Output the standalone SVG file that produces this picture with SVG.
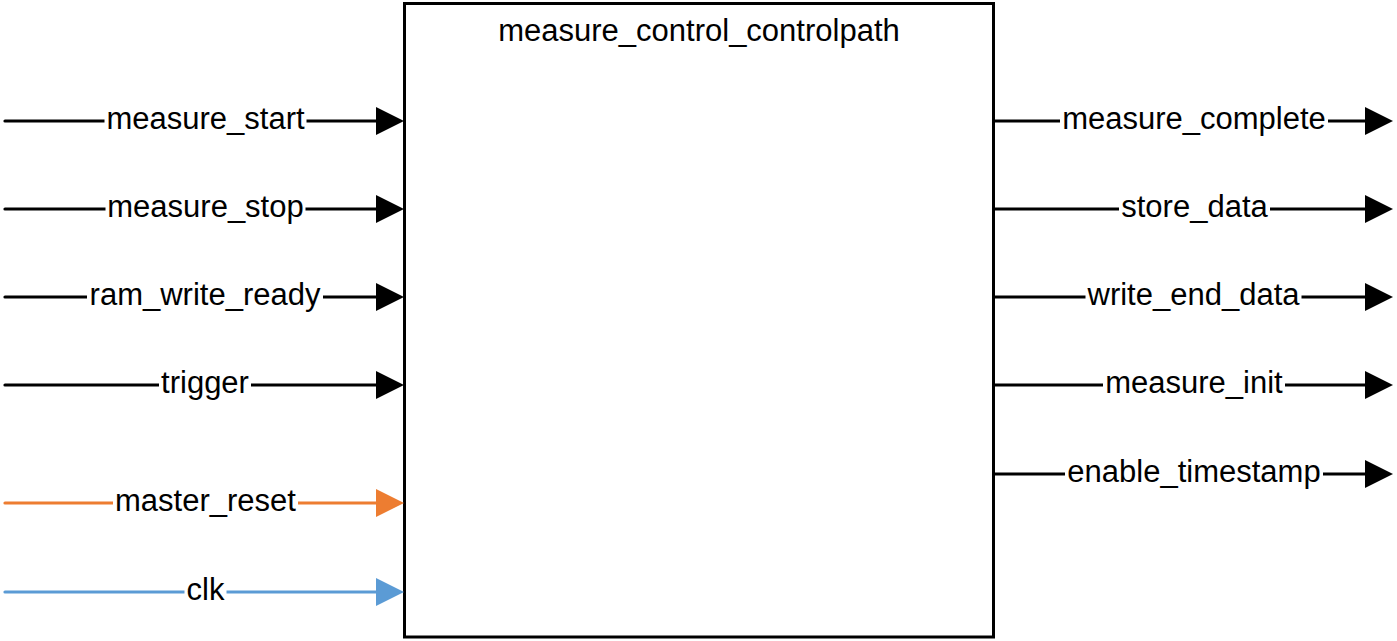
<svg xmlns="http://www.w3.org/2000/svg" width="1397" height="641" viewBox="0 0 1397 641">
  <style>
    .lbl { font-family: "Liberation Sans", Arial, sans-serif; font-size: 31px; fill: #000; text-anchor: middle; }
    .wire { stroke-width: 3.2; stroke-linecap: round; fill: none; }
    .blk { stroke: #000; }
    .org { stroke: #ED7D31; }
    .blu { stroke: #5B9BD5; }
    .bg { fill: #fff; }
  </style>
  <defs>
    <marker id="ah" markerUnits="userSpaceOnUse" markerWidth="28" markerHeight="28" viewBox="0 0 28 28" refX="2" refY="14" orient="auto">
      <path d="M0,0 L28,14 L0,28 Z" fill="#000"/>
    </marker>
    <marker id="ahO" markerUnits="userSpaceOnUse" markerWidth="28" markerHeight="28" viewBox="0 0 28 28" refX="2" refY="14" orient="auto">
      <path d="M0,0 L28,14 L0,28 Z" fill="#ED7D31"/>
    </marker>
    <marker id="ahB" markerUnits="userSpaceOnUse" markerWidth="28" markerHeight="28" viewBox="0 0 28 28" refX="2" refY="14" orient="auto">
      <path d="M0,0 L28,14 L0,28 Z" fill="#5B9BD5"/>
    </marker>
  </defs>
  <rect width="1397" height="641" fill="#fff"/>

  <g id="block">
    <rect x="404.5" y="3.5" width="589" height="633.5" fill="#fff" stroke="#000" stroke-width="3"/>
    <text class="lbl" x="699" y="41">measure_control_controlpath</text>
  </g>

  <g id="connectors">
    <line class="wire blk" x1="5" y1="121" x2="378" y2="121" marker-end="url(#ah)"/>
    <line class="wire blk" x1="5" y1="209" x2="378" y2="209" marker-end="url(#ah)"/>
    <line class="wire blk" x1="5" y1="297" x2="378" y2="297" marker-end="url(#ah)"/>
    <line class="wire blk" x1="5" y1="385" x2="378" y2="385" marker-end="url(#ah)"/>
    <line class="wire org" x1="5" y1="503" x2="378" y2="503" marker-end="url(#ahO)"/>
    <line class="wire blu" x1="5" y1="592" x2="378" y2="592" marker-end="url(#ahB)"/>

    <line class="wire blk" x1="994" y1="121" x2="1367" y2="121" marker-end="url(#ah)"/>
    <line class="wire blk" x1="994" y1="209" x2="1367" y2="209" marker-end="url(#ah)"/>
    <line class="wire blk" x1="994" y1="297" x2="1367" y2="297" marker-end="url(#ah)"/>
    <line class="wire blk" x1="994" y1="385" x2="1367" y2="385" marker-end="url(#ah)"/>
    <line class="wire blk" x1="994" y1="474" x2="1367" y2="474" marker-end="url(#ah)"/>
  </g>

  <g id="port-labels">
    <g id="p-measure_start"><rect class="bg" x="104.5" y="115" width="202" height="12"/><text class="lbl" x="205.5" y="129">measure_start</text></g>
    <g id="p-measure_stop"><rect class="bg" x="105.5" y="203" width="200" height="12"/><text class="lbl" x="205.5" y="217">measure_stop</text></g>
    <g id="p-ram_write_ready"><rect class="bg" x="87" y="291" width="236" height="12"/><text class="lbl" x="205" y="305">ram_write_ready</text></g>
    <g id="p-trigger"><rect class="bg" x="159" y="379" width="92" height="12"/><text class="lbl" x="205" y="393">trigger</text></g>
    <g id="p-master_reset"><rect class="bg" x="113" y="497" width="185" height="12"/><text class="lbl" x="205.5" y="511">master_reset</text></g>
    <g id="p-clk"><rect class="bg" x="184.5" y="586" width="42" height="12"/><text class="lbl" x="205.5" y="600">clk</text></g>

    <g id="p-measure_complete"><rect class="bg" x="1060" y="115" width="268" height="12"/><text class="lbl" x="1194" y="129">measure_complete</text></g>
    <g id="p-store_data"><rect class="bg" x="1119" y="203" width="151" height="12"/><text class="lbl" x="1194.5" y="217">store_data</text></g>
    <g id="p-write_end_data"><rect class="bg" x="1085.5" y="291" width="216" height="12"/><text class="lbl" x="1193.5" y="305">write_end_data</text></g>
    <g id="p-measure_init"><rect class="bg" x="1103" y="379" width="182" height="12"/><text class="lbl" x="1194" y="393">measure_init</text></g>
    <g id="p-enable_timestamp"><rect class="bg" x="1065" y="468" width="258" height="12"/><text class="lbl" x="1194" y="482">enable_timestamp</text></g>
  </g>
</svg>
